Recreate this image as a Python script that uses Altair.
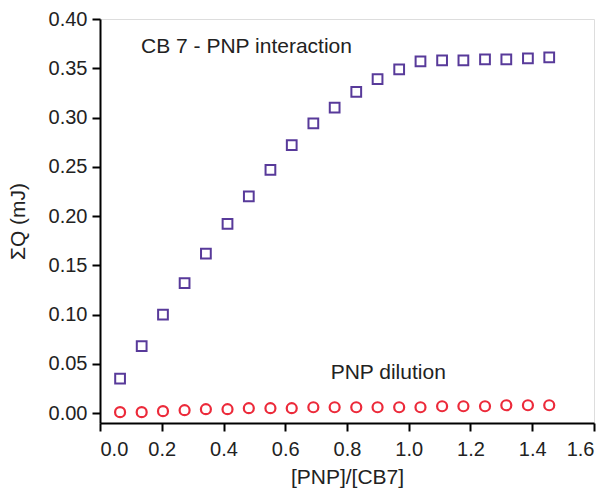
import altair as alt
import pandas as pd

ratio = [0.065, 0.135, 0.204, 0.274, 0.343, 0.413, 0.482, 0.552, 0.621, 0.691,
         0.760, 0.830, 0.899, 0.969, 1.038, 1.108, 1.177, 1.247, 1.316, 1.386, 1.455]
interaction = [0.035, 0.068, 0.100, 0.132, 0.162, 0.192, 0.220, 0.247, 0.272, 0.294,
               0.310, 0.326, 0.339, 0.349, 0.357, 0.358, 0.358, 0.359, 0.359, 0.360, 0.361]
dilution = [0.001, 0.001, 0.002, 0.003, 0.004, 0.004, 0.005, 0.005, 0.005, 0.006,
            0.006, 0.006, 0.006, 0.006, 0.006, 0.007, 0.007, 0.007, 0.008, 0.008, 0.008]

x_ticks = [round(i * 0.1, 2) for i in range(17)]
y_ticks = [round(i * 0.025, 3) for i in range(17)]

labels_txt = ["CB 7 - PNP interaction", "PNP dilution"]
labels_x = [0.133, 0.747]
labels_y = [0.372, 0.041]

df = pd.DataFrame({"x": ratio, "inter": interaction, "dil": dilution})
lab = pd.DataFrame({"t": labels_txt, "x": labels_x, "y": labels_y})

FONT = "Liberation Sans"

xscale = alt.Scale(domain=[0, 1.6], nice=False, zero=False)
yscale = alt.Scale(domain=[-0.01, 0.40], nice=False, zero=False)

x_axis = alt.Axis(
    title="[PNP]/[CB7]", values=x_ticks, format=".1f",
    labelExpr="abs(round(datum.value*5) - datum.value*5) < 0.01 ? datum.label : ''",
    tickSize={"condition": {"test": "abs(round(datum.value*5) - datum.value*5) < 0.01", "value": 8}, "value": 5},
    grid=False, domainColor="black", domainWidth=2, tickColor="black", tickWidth=2,
    labelFont=FONT, labelFontSize=20, labelColor="#222", labelPadding=8,
    titleFont=FONT, titleFontSize=21, titleFontWeight="normal", titleColor="#222", titlePadding=7,
)
y_axis = alt.Axis(
    title="ΣQ (mJ)", values=y_ticks, format=".2f",
    labelExpr="abs(round(datum.value*20) - datum.value*20) < 0.01 ? datum.label : ''",
    tickSize={"condition": {"test": "abs(round(datum.value*20) - datum.value*20) < 0.01", "value": 8}, "value": 5},
    grid=False, domainColor="black", domainWidth=2, tickColor="black", tickWidth=2,
    labelFont=FONT, labelFontSize=20, labelColor="#222", labelPadding=5,
    titleFont=FONT, titleFontSize=21, titleFontWeight="normal", titleColor="#222", titlePadding=20,
)

base = alt.Chart(df)
sq = base.mark_point(shape="square", size=95, strokeWidth=2, color="#583a9a", filled=False, opacity=1).encode(
    x=alt.X("x:Q", scale=xscale, axis=x_axis),
    y=alt.Y("inter:Q", scale=yscale, axis=y_axis),
)
ci = base.mark_point(shape="circle", size=100, strokeWidth=2.2, color="#ec2a3a", filled=False, opacity=1).encode(
    x=alt.X("x:Q", scale=xscale),
    y=alt.Y("dil:Q", scale=yscale),
)
txt = alt.Chart(lab).mark_text(align="left", baseline="middle", font=FONT, fontSize=21, color="#222").encode(
    x=alt.X("x:Q", scale=xscale), y=alt.Y("y:Q", scale=yscale), text="t:N"
)

chart = alt.layer(sq, ci, txt).properties(
    width=494, height=404,
    autosize=alt.AutoSizeParams(type="none"),
    padding={"left": 100, "top": 19, "right": 17, "bottom": 68},
).configure_view(stroke="black", strokeWidth=2).configure(background="white")

chart.save("out.html", embed_options={"renderer": "svg", "actions": False})
